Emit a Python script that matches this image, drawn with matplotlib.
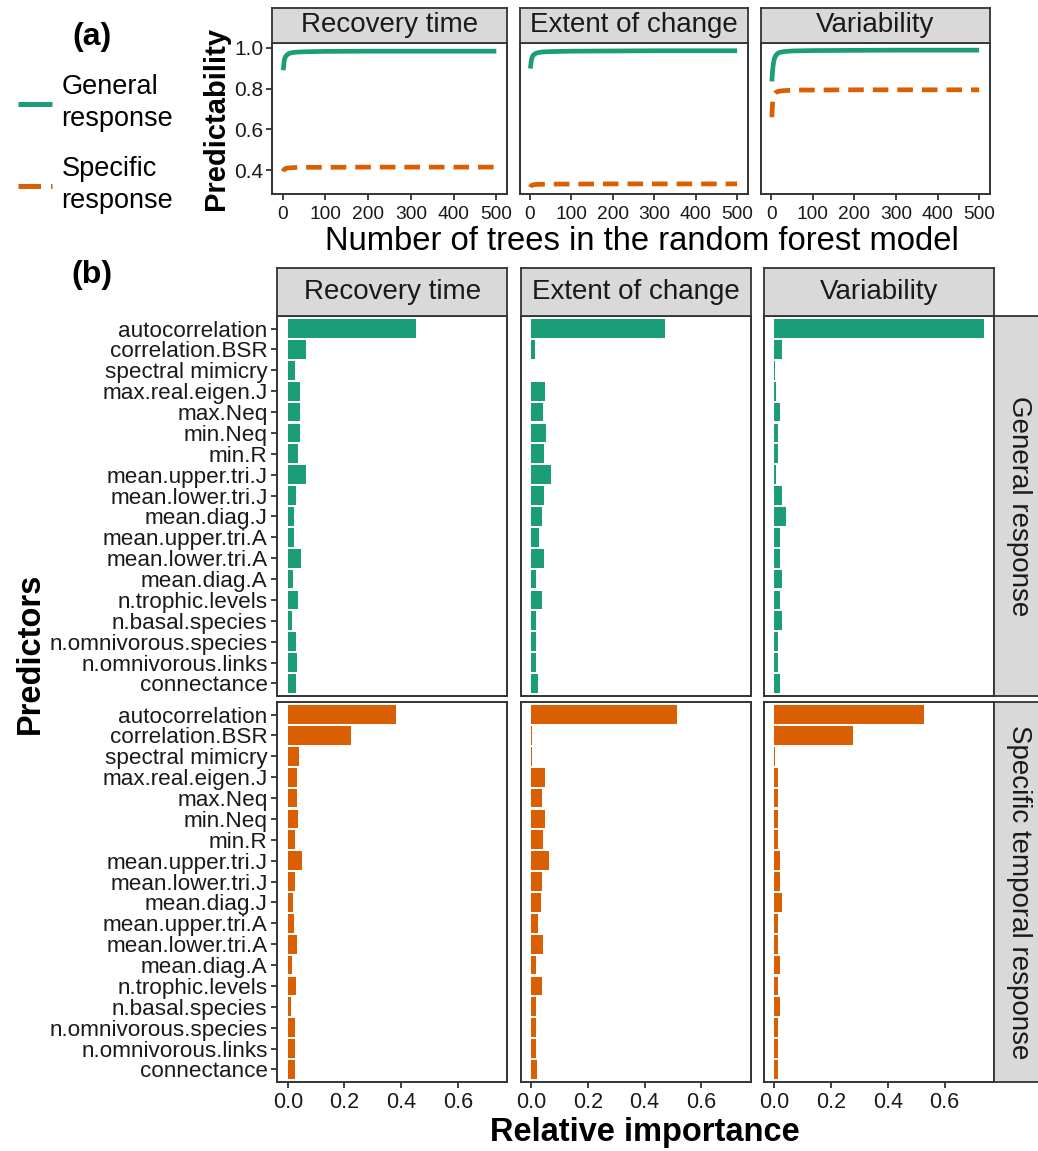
import matplotlib
matplotlib.use("Agg")
import matplotlib.pyplot as plt
from matplotlib.lines import Line2D

plt.rcParams['font.family'] = ['Liberation Sans', 'DejaVu Sans']

# ---------------- data ----------------
responses = ["Recovery time", "Extent of change", "Variability"]
response_types = ["General response", "Specific temporal response"]

predictors = [
    "autocorrelation", "correlation.BSR", "spectral mimicry", "max.real.eigen.J",
    "max.Neq", "min.Neq", "min.R", "mean.upper.tri.J", "mean.lower.tri.J",
    "mean.diag.J", "mean.upper.tri.A", "mean.lower.tri.A", "mean.diag.A",
    "n.trophic.levels", "n.basal.species", "n.omnivorous.species",
    "n.omnivorous.links", "connectance",
]

# relative importance, general response
general_recovery = [0.453, 0.063, 0.025, 0.042, 0.042, 0.042, 0.035, 0.063, 0.028,
                    0.021, 0.021, 0.046, 0.018, 0.035, 0.014, 0.028, 0.032, 0.028]
general_extent = [0.472, 0.014, 0.001, 0.049, 0.042, 0.053, 0.046, 0.070, 0.046,
                  0.039, 0.028, 0.046, 0.018, 0.039, 0.018, 0.018, 0.018, 0.025]
general_variability = [0.737, 0.025, 0.001, 0.007, 0.018, 0.014, 0.014, 0.004, 0.028,
                       0.042, 0.018, 0.021, 0.028, 0.018, 0.025, 0.011, 0.011, 0.018]

# relative importance, specific temporal response
specific_recovery = [0.380, 0.222, 0.039, 0.032, 0.032, 0.035, 0.025, 0.049, 0.025,
                     0.018, 0.021, 0.032, 0.014, 0.028, 0.011, 0.025, 0.025, 0.025]
specific_extent = [0.514, 0.002, 0.002, 0.049, 0.039, 0.049, 0.042, 0.063, 0.039,
                   0.035, 0.025, 0.042, 0.018, 0.039, 0.018, 0.018, 0.018, 0.021]
specific_variability = [0.528, 0.278, 0.002, 0.011, 0.014, 0.014, 0.011, 0.018, 0.018,
                        0.025, 0.011, 0.014, 0.018, 0.014, 0.018, 0.011, 0.014, 0.014]

# predictability as a function of forest size
n_trees = [1, 2, 3, 4, 5, 7, 10, 15, 20, 30, 50, 75, 100, 200, 300, 400, 500]
pred_general_recovery = [0.890, 0.902, 0.925, 0.940, 0.948, 0.957, 0.965, 0.972, 0.975,
                         0.978, 0.980, 0.981, 0.982, 0.983, 0.983, 0.983, 0.983]
pred_specific_recovery = [0.395, 0.400, 0.403, 0.405, 0.407, 0.409, 0.411, 0.412, 0.413,
                          0.414, 0.415, 0.415, 0.415, 0.416, 0.416, 0.416, 0.416]
pred_general_extent = [0.898, 0.912, 0.930, 0.942, 0.950, 0.960, 0.967, 0.973, 0.976,
                       0.979, 0.981, 0.982, 0.983, 0.984, 0.985, 0.985, 0.985]
pred_specific_extent = [0.318, 0.322, 0.324, 0.326, 0.327, 0.329, 0.330, 0.331, 0.332,
                        0.332, 0.333, 0.333, 0.333, 0.334, 0.334, 0.334, 0.334]
pred_general_variability = [0.835, 0.860, 0.890, 0.910, 0.925, 0.945, 0.960, 0.972, 0.977,
                            0.981, 0.984, 0.985, 0.986, 0.987, 0.988, 0.988, 0.988]
pred_specific_variability = [0.660, 0.700, 0.730, 0.750, 0.760, 0.772, 0.780, 0.785, 0.788,
                             0.790, 0.792, 0.793, 0.793, 0.794, 0.794, 0.794, 0.794]

GREEN = "#1B9E77"
ORANGE = "#D95F02"
STRIP = "#D9D9D9"
EDGE = "#333333"
TXT = "#1A1A1A"

W, H = 1038, 1151
fig = plt.figure(figsize=(W / 100, H / 100), dpi=100)


def add_ax(x0, y0, x1, y1):
    return fig.add_axes([x0 / W, 1 - y1 / H, (x1 - x0) / W, (y1 - y0) / H])


def frame(ax, lw=1.4):
    for s in ax.spines.values():
        s.set_color(EDGE)
        s.set_linewidth(lw)


def strip(x0, y0, x1, y1, label, rotation=0, size=20):
    sa = add_ax(x0, y0, x1, y1)
    sa.set_facecolor(STRIP)
    sa.set_xticks([])
    sa.set_yticks([])
    frame(sa, 1.3)
    sa.text(0.5, 0.5, label, transform=sa.transAxes, ha="center", va="center",
            rotation=rotation, fontsize=size, color=TXT)
    return sa


# ---------------- panel (a) ----------------
top_cols = [(272, 507), (519.5, 747.5), (761, 989.5)]
top_y0, top_y1 = 43.3, 194
strip_top = 7.5

curves = [
    (pred_general_recovery, pred_specific_recovery),
    (pred_general_extent, pred_specific_extent),
    (pred_general_variability, pred_specific_variability),
]
all_vals = [v for pair in curves for c in pair for v in c]
lo, hi = min(all_vals), max(all_vals)
pad = 0.05 * (hi - lo)
dash = (3.3, 1.9)

for i, ((x0, x1), (gen, spec)) in enumerate(zip(top_cols, curves)):
    ax = add_ax(x0, top_y0, x1, top_y1)
    ax.plot(n_trees, gen, color=GREEN, lw=3.4, solid_capstyle="butt")
    ax.plot(n_trees, spec, color=ORANGE, lw=3.4, linestyle=(0, dash))
    ax.set_xlim(-25, 525)
    ax.set_ylim(lo - pad, hi + pad)
    ax.set_xticks([0, 100, 200, 300, 400, 500])
    ax.set_yticks([0.4, 0.6, 0.8, 1.0])
    ax.set_yticklabels(["0.4", "0.6", "0.8", "1.0"])
    frame(ax)
    ax.tick_params(axis="x", length=4, width=1.3, color=EDGE, labelsize=13.8,
                   labelcolor=TXT, pad=4.5)
    ax.tick_params(axis="y", length=4, width=1.3, color=EDGE, labelsize=15,
                   labelcolor=TXT, pad=2)
    if i > 0:
        ax.tick_params(axis="y", left=False, labelleft=False)
    else:
        ax.set_ylabel("Predictability", fontsize=21, fontweight="bold", labelpad=3)
    strip(x0, strip_top, x1, top_y0, responses[i])

fig.text(642 / W, 1 - 241 / H, "Number of trees in the random forest model",
         ha="center", va="center", fontsize=23.6, color="black")
fig.text(92 / W, 1 - 37 / H, "(a)", ha="center", va="center", fontsize=23,
         fontweight="bold")

handles = [Line2D([], [], color=GREEN, lw=3.6, solid_capstyle="butt"),
           Line2D([], [], color=ORANGE, lw=3.6, linestyle=(0, (4.5, 2.0)))]
leg = fig.legend(handles, ["General\nresponse", "Specific\nresponse"],
                 loc="upper left", bbox_to_anchor=(18 / W, 1 - 74 / H), frameon=False,
                 fontsize=19.5, handlelength=1.25, handletextpad=0.35,
                 labelspacing=0.9, borderaxespad=0, borderpad=0)
for t in leg.get_texts():
    t.set_linespacing(1.3)

# ---------------- panel (b) ----------------
cols = [(277.3, 507.3), (520.7, 750.7), (764, 994)]
rows = [(316, 696), (702, 1082)]
importance = [
    [general_recovery, general_extent, general_variability],
    [specific_recovery, specific_extent, specific_variability],
]
colors = [GREEN, ORANGE]
xmax = max(max(v) for row in importance for v in row)
npred = len(predictors)
ypos = list(range(npred))

for r, (y0, y1) in enumerate(rows):
    for c, (x0, x1) in enumerate(cols):
        ax = add_ax(x0, y0, x1, y1)
        ax.barh(ypos, importance[r][c], height=0.9, color=colors[r], linewidth=0)
        ax.set_xlim(-0.05 * xmax, 1.05 * xmax)
        ax.set_ylim(npred - 1 + 0.6, -0.6)
        ax.set_xticks([0.0, 0.2, 0.4, 0.6])
        ax.set_xticklabels(["0.0", "0.2", "0.4", "0.6"])
        ax.set_yticks(ypos)
        ax.set_yticklabels(predictors)
        frame(ax)
        ax.tick_params(axis="x", length=4, width=1.3, color=EDGE, labelsize=15.5,
                       labelcolor=TXT, pad=3)
        ax.tick_params(axis="y", length=4, width=1.3, color=EDGE, labelsize=16.2,
                       labelcolor=TXT, pad=3)
        if c > 0:
            ax.tick_params(axis="y", left=False, labelleft=False)
        if r == 0:
            ax.tick_params(axis="x", bottom=False, labelbottom=False)
    strip(994, y0, 1045, y1, response_types[r], rotation=270)

for c, (x0, x1) in enumerate(cols):
    strip(x0, 268, x1, 316, responses[c])

fig.text(92 / W, 1 - 275 / H, "(b)", ha="center", va="center", fontsize=23,
         fontweight="bold")
fig.text(645 / W, 1 - 1133 / H, "Relative importance", ha="center", va="center",
         fontsize=23.5, fontweight="bold")
fig.text(30 / W, 1 - 653 / H, "Predictors", ha="center", va="center",
         fontsize=23.5, fontweight="bold", rotation=90)

fig.savefig("out.png", dpi=100)
